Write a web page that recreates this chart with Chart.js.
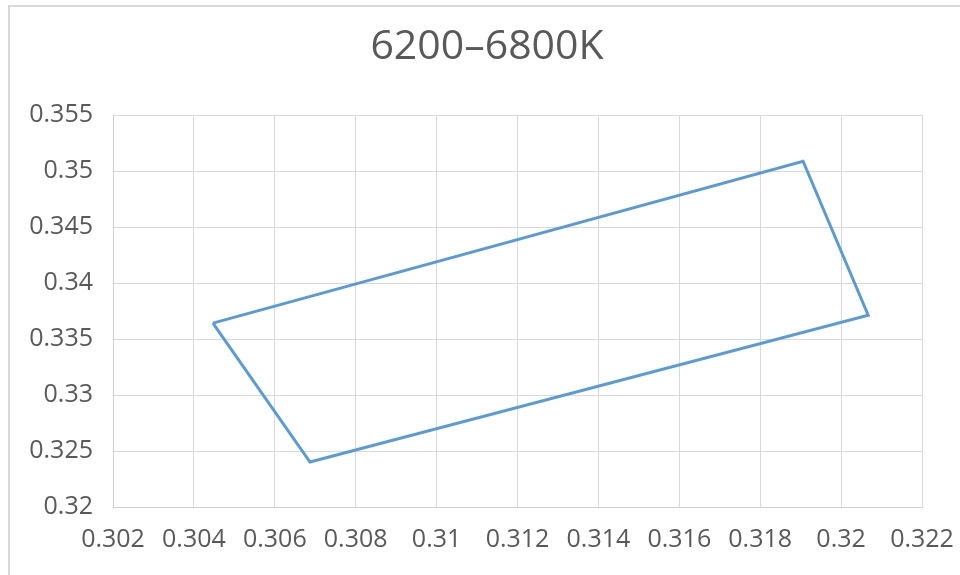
<!DOCTYPE html>
<html>
<head>
<meta charset="utf-8">
<script src="https://cdn.jsdelivr.net/npm/chart.js@4.4.1/dist/chart.umd.min.js"></script>
<style>
  html, body { margin: 0; padding: 0; background: #ffffff; overflow: hidden; }
  #frame { position: absolute; left: 8px; top: 5px; width: 1000px; height: 1000px; border: 2px solid #d9d9d9; box-sizing: border-box; }
  #wrap { position: absolute; left: 0; top: 0; width: 960px; height: 575px; }
</style>
</head>
<body>
<div id="frame"></div>
<div id="wrap"><canvas id="c" width="960" height="575"></canvas></div>
<script>
const chartTitle = "6200–6800K";
const xValues = [0.30447, 0.31906, 0.32067, 0.30687, 0.30447];
const yValues = [0.33643, 0.35089, 0.33714, 0.32402, 0.33643];
const xTickLabels = ["0.302", "0.304", "0.306", "0.308", "0.31", "0.312", "0.314", "0.316", "0.318", "0.32", "0.322"];
const yTickLabels = ["0.32", "0.325", "0.33", "0.335", "0.34", "0.345", "0.35", "0.355"];

const points = xValues.map((x, i) => ({ x: x, y: yValues[i] }));
const font = "'Open Sans', 'Noto Sans', sans-serif";

new Chart(document.getElementById('c'), {
  type: 'scatter',
  data: {
    datasets: [{
      data: points,
      showLine: true,
      borderColor: '#5b9bd5',
      borderWidth: 3,
      pointRadius: 0,
      pointHoverRadius: 0,
      fill: false,
      borderJoinStyle: 'miter',
      tension: 0
    }]
  },
  options: {
    responsive: false,
    animation: false,
    devicePixelRatio: 1,
    layout: { padding: { left: 14, right: 0, top: 0, bottom: 0 } },
    plugins: {
      legend: { display: false },
      tooltip: { enabled: false },
      title: {
        display: true,
        text: chartTitle,
        color: '#595959',
        font: { family: font, size: 41, weight: 'normal' },
        padding: { top: 23, bottom: 43 }
      }
    },
    scales: {
      x: {
        type: 'linear',
        min: 0.302,
        max: 0.322,
        border: { color: '#d0d0d0', width: 1 },
        grid: { color: '#d9d9d9', drawTicks: false },
        ticks: {
          stepSize: 0.002,
          color: '#595959',
          font: { family: font, size: 25 },
          padding: 18,
          maxRotation: 0,
          autoSkip: false,
          callback: (v, i) => xTickLabels[i]
        },
        afterFit: (s) => { s.height = 68; s.paddingRight = 38; }
      },
      y: {
        type: 'linear',
        min: 0.32,
        max: 0.355,
        border: { color: '#d0d0d0', width: 1 },
        grid: { color: '#d9d9d9', drawTicks: false },
        ticks: {
          stepSize: 0.005,
          color: '#595959',
          font: { family: font, size: 25 },
          padding: 20,
          autoSkip: false,
          callback: (v, i) => yTickLabels[i]
        },
        afterFit: (s) => { s.width = 99; }
      }
    }
  }
});
</script>
</body>
</html>
